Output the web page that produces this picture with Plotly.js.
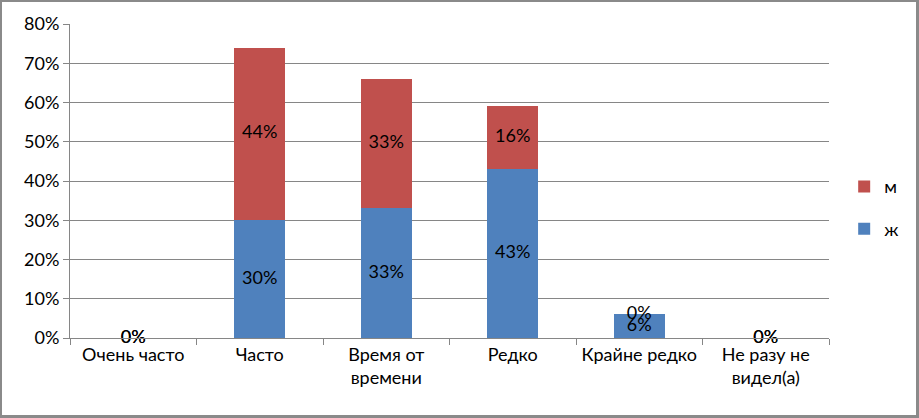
<!DOCTYPE html>
<html>
<head>
<meta charset="utf-8">
<script src="https://cdn.plot.ly/plotly-3.0.1.min.js"></script>
<style>
html,body{margin:0;padding:0;background:#fff;}
#chart{width:919px;height:418px;box-sizing:border-box;border:2px solid #8a8a8a;border-right-width:3px;border-bottom-width:3px;}
</style>
</head>
<body>
<div id="chart"></div>
<script>
const categories = ["Очень часто", "Часто", "Время от<br>времени", "Редко", "Крайне редко", "Не разу не<br>видел(а)"];
const zhValues = [0, 30, 33, 43, 6, 0];
const mValues = [0, 44, 33, 16, 0, 0];
const seriesNames = ["ж", "м"];
const colors = ["#4f81bd", "#c0504d"];

const font = {family: "Lato, 'Open Sans', sans-serif", size: 18, color: "#000"};

const zhLabelY = zhValues.map(v => v / 2);
const mLabelY = zhValues.map((v, i) => v + mValues[i] / 2);

const traces = [
  {type: "bar", x: categories, y: zhValues, name: seriesNames[0], marker: {color: colors[0]}, legendgroup: "a", legendrank: 2, hoverinfo: "none"},
  {type: "bar", x: categories, y: mValues, name: seriesNames[1], marker: {color: colors[1]}, legendgroup: "b", legendrank: 1, hoverinfo: "none"},
  {type: "scatter", mode: "text", x: categories, y: zhLabelY, text: zhValues.map(v => v + "%"), textfont: font, showlegend: false, hoverinfo: "none", cliponaxis: false},
  {type: "scatter", mode: "text", x: categories, y: mLabelY, text: mValues.map(v => v + "%"), textfont: font, showlegend: false, hoverinfo: "none", cliponaxis: false}
];

const layout = {
  width: 914, height: 413,
  margin: {l: 68, r: 83, t: 22, b: 77},
  barmode: "stack",
  bargap: 0.6,
  font: font,
  paper_bgcolor: "#fff",
  plot_bgcolor: "#fff",
  showlegend: true,
  legend: {x: 1.02, y: 0.415, xanchor: "left", yanchor: "middle", traceorder: "grouped", tracegroupgap: 16, font: font},
  xaxis: {
    type: "category",
    showline: true, linecolor: "#868686", linewidth: 1,
    ticks: "outside", tickson: "boundaries", ticklen: 6, tickcolor: "#868686",
    showgrid: false, tickfont: font
  },
  yaxis: {
    range: [0, 80], dtick: 10, ticksuffix: "%",
    showline: true, linecolor: "#868686", linewidth: 1,
    ticks: "outside", ticklen: 6, tickcolor: "#868686",
    showgrid: true, gridcolor: "#868686", gridwidth: 1,
    zeroline: false, tickfont: font
  }
};

Plotly.newPlot("chart", traces, layout, {staticPlot: true, displayModeBar: false});
</script>
</body>
</html>
